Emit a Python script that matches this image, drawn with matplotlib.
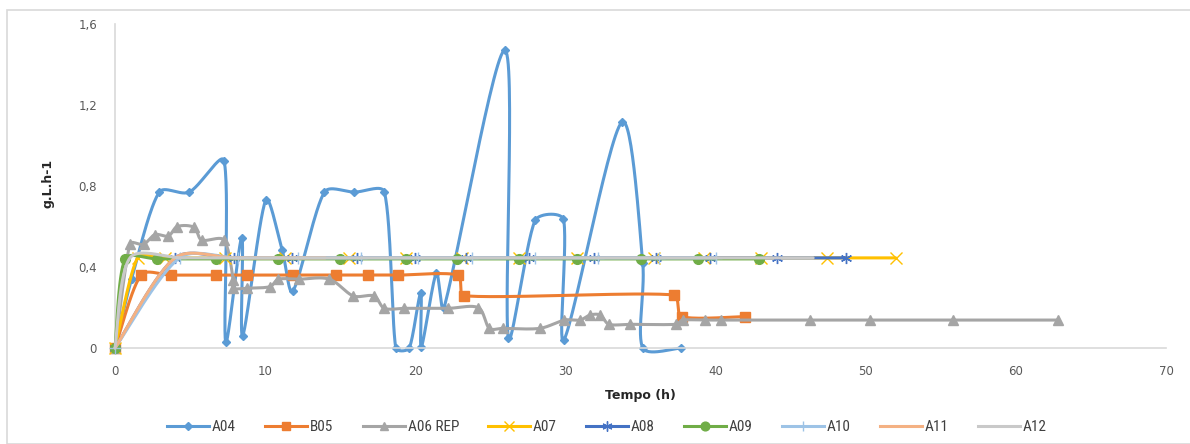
import numpy as np
import matplotlib
matplotlib.use('Agg')
import matplotlib.pyplot as plt
from matplotlib.patches import Rectangle
from matplotlib.lines import Line2D
from matplotlib import font_manager

# ---------------- data ----------------
a04_x = [0, 1.1, 2.95, 4.95, 7.26, 7.37, 8.44, 8.5, 10.04, 11.13, 11.84, 13.95, 15.95, 17.94,
         18.7, 19.6, 20.36, 20.4, 21.4, 21.9, 25.98, 26.2, 27.98, 29.87, 29.9, 33.75, 35.15, 35.15, 37.7]
a04_y = [0, 0.34, 0.77, 0.77, 0.925, 0.03, 0.545, 0.06, 0.73, 0.484, 0.28, 0.77, 0.77, 0.77,
         0, 0, 0.27, 0.005, 0.37, 0.196, 1.47, 0.05, 0.63, 0.635, 0.04, 1.115, 0.42, 0, 0]

b05_x = [0, 1.73, 3.73, 6.73, 8.8, 11.83, 14.72, 16.83, 18.83, 22.82, 23.27, 37.2, 37.75, 41.97]
b05_y = [0, 0.36, 0.36, 0.36, 0.36, 0.36, 0.36, 0.36, 0.36, 0.36, 0.258, 0.262, 0.155, 0.155]

a06_x = [0, 1.0, 1.9, 2.66, 3.55, 4.15, 5.26, 5.77, 7.26, 7.88, 7.88, 8.77, 10.33, 10.88, 12.28,
         14.27, 15.87, 17.25, 17.94, 19.27, 22.2, 24.2, 24.93, 25.82, 28.3, 29.93, 30.97, 31.65,
         32.3, 32.9, 34.27, 37.35, 37.8, 39.3, 40.35, 46.3, 50.3, 55.8, 62.8]
a06_y = [0, 0.515, 0.512, 0.56, 0.553, 0.6, 0.596, 0.533, 0.533, 0.335, 0.295, 0.295, 0.303, 0.34,
         0.34, 0.34, 0.257, 0.257, 0.196, 0.196, 0.196, 0.199, 0.097, 0.097, 0.097, 0.138, 0.138,
         0.163, 0.163, 0.117, 0.117, 0.117, 0.138, 0.138, 0.138, 0.138, 0.138, 0.138, 0.138]

a07_x = [0, 1.5, 3.3, 7.3, 11.3, 15.6, 19.4, 23.1, 26.9, 30.8, 35.9, 39.2, 43.0, 47.4, 52.0]
a07_y = [0] + [0.445] * 14

a08_x = [0, 4.0, 7.9, 11.8, 16.1, 20.0, 23.4, 27.6, 31.9, 36.0, 39.6, 44.1, 48.7]
a08_y = [0] + [0.445] * 12

a09_x = [0, 0.67, 2.8, 6.7, 10.88, 15.0, 19.4, 22.8, 26.9, 30.8, 35.0, 38.86, 42.9]
a09_y = [0] + [0.44] * 12

a10_x = [0, 4.3, 8.2, 12.2, 16.4, 20.2, 23.75, 28.0, 32.2, 36.2, 40.0]
a10_y = [0] + [0.445] * 10

a11_x = [0, 4.0, 8.0, 14.0]
a11_y = [0, 0.445, 0.445, 0.445]

a12_x = [0, 1.0, 4.5, 10.0, 15.0, 20.0, 25.0, 30.0, 35.0, 40.0, 46.5]
a12_y = [0] + [0.445] * 10

series_names = ['A04', 'B05', 'A06 REP', 'A07', 'A08', 'A09', 'A10', 'A11', 'A12']
x_ticks = [0, 10, 20, 30, 40, 50, 60, 70]
y_ticks = [0, 0.4, 0.8, 1.2, 1.6]
y_tick_labels = ['0', '0,4', '0,8', '1,2', '1,6']

# ---------------- fonts ----------------
_avail = {f.name for f in font_manager.fontManager.ttflist}
_narrow = next((f for f in ['Liberation Sans Narrow', 'Roboto Condensed', 'Open Sans', 'DejaVu Sans']
                if f in _avail), 'DejaVu Sans')

# ---------------- figure ----------------
W, H = 1190, 444
fig = plt.figure(figsize=(W / 100, H / 100), dpi=100)
fig.patches.append(Rectangle((7 / W, 0), 1.2, (H - 10) / H, transform=fig.transFigure,
                             fill=False, edgecolor='#d9d9d9', lw=1.2))

ax = fig.add_axes([115 / W, (H - 348) / H, (1166 - 115) / W, (348 - 24) / H])
ax.set_xlim(0, 70)
ax.set_ylim(0, 1.6)


def smooth(x, y, n=30):
    """Excel-like smoothed line: cubic Bezier through the points, computed in pixel space."""
    pts = ax.transData.transform(np.column_stack([x, y]))
    P = np.vstack([pts[0], pts, pts[-1]])
    t = np.linspace(0, 1, n + 1)[1:]
    out = [pts[0]]
    for i in range(1, len(P) - 2):
        p0, p1, p2, p3 = P[i - 1], P[i], P[i + 1], P[i + 2]
        d01 = np.hypot(*(p1 - p0))
        d12 = np.hypot(*(p2 - p1))
        d23 = np.hypot(*(p3 - p2))
        f1 = 2 * d12 / (d01 + d12) if d01 + d12 > 0 else 0
        f2 = 2 * d12 / (d12 + d23) if d12 + d23 > 0 else 0
        f1 = min(f1, 1.0)
        f2 = min(f2, 1.0)
        b1 = p1 + (p2 - p0) / 6 * f1
        b2 = p2 - (p3 - p1) / 6 * f2
        seg = (((1 - t) ** 3)[:, None] * p1 + (3 * (1 - t) ** 2 * t)[:, None] * b1
               + (3 * (1 - t) * t ** 2)[:, None] * b2 + (t ** 3)[:, None] * p2)
        out.extend(seg)
    d = ax.transData.inverted().transform(np.array(out))
    return d[:, 0], d[:, 1]


styles = [
    (a04_x, a04_y, '#5B9BD5', 'D', 4.5, {}),
    (b05_x, b05_y, '#ED7D31', 's', 7, {}),
    (a06_x, a06_y, '#A5A5A5', '^', 7, {}),
    (a07_x, a07_y, '#FFC000', 'x', 8, {'mew': 1}),
    (a08_x, a08_y, '#4472C4', (6, 2, 0), 8, {'mew': 1}),
    (a09_x, a09_y, '#70AD47', 'o', 7, {}),
    (a10_x, a10_y, '#9DC3E6', '+', 8, {'mew': 1}),
    (a11_x, a11_y, '#F4B183', None, 0, {}),
    (a12_x, a12_y, '#C9C9C9', None, 0, {}),
]

handles = []
for i, ((xs, ys, col, mk, ms, kw), name) in enumerate(zip(styles, series_names)):
    sx, sy = smooth(xs, ys)
    ax.plot(sx, sy, color=col, lw=2.2, solid_capstyle='round', zorder=2 + i, clip_on=False)
    if mk is not None:
        ax.plot(xs, ys, ls='none', marker=mk, ms=ms, color=col, mec=col, zorder=2 + i,
                clip_on=False, **kw)
    handles.append(Line2D([], [], color=col, lw=2.2, marker=mk, ms=ms * 0.9 if mk else 0,
                          mec=col, **kw))

for s in ['top', 'right']:
    ax.spines[s].set_visible(False)
for s in ['left', 'bottom']:
    ax.spines[s].set_color('#d9d9d9')
    ax.spines[s].set_linewidth(1.2)

ax.set_xticks(x_ticks)
ax.set_yticks(y_ticks)
ax.set_yticklabels(y_tick_labels)
ax.tick_params(axis='both', length=0, labelsize=8.5, colors='#595959')
ax.tick_params(axis='x', pad=12)
ax.tick_params(axis='y', pad=13)

fig.text(48 / W, 1 - 183 / H, 'g.L.h-1', rotation=90, ha='center', va='center',
         fontsize=9, fontweight='bold', color='#262626')
fig.text(640 / W, 1 - 395 / H, 'Tempo (h)', ha='center', va='center',
         fontsize=9, fontweight='bold', color='#262626')

leg = fig.legend(handles, series_names, ncol=9, loc='center', bbox_to_anchor=(607 / W, 1 - 427 / H),
                 frameon=False, prop={'family': [_narrow, 'DejaVu Sans'], 'size': 11},
                 handlelength=2.75, handletextpad=0.2, columnspacing=1.9)
for t in leg.get_texts():
    t.set_color('#404040')

fig.savefig('out.png', dpi=100)
